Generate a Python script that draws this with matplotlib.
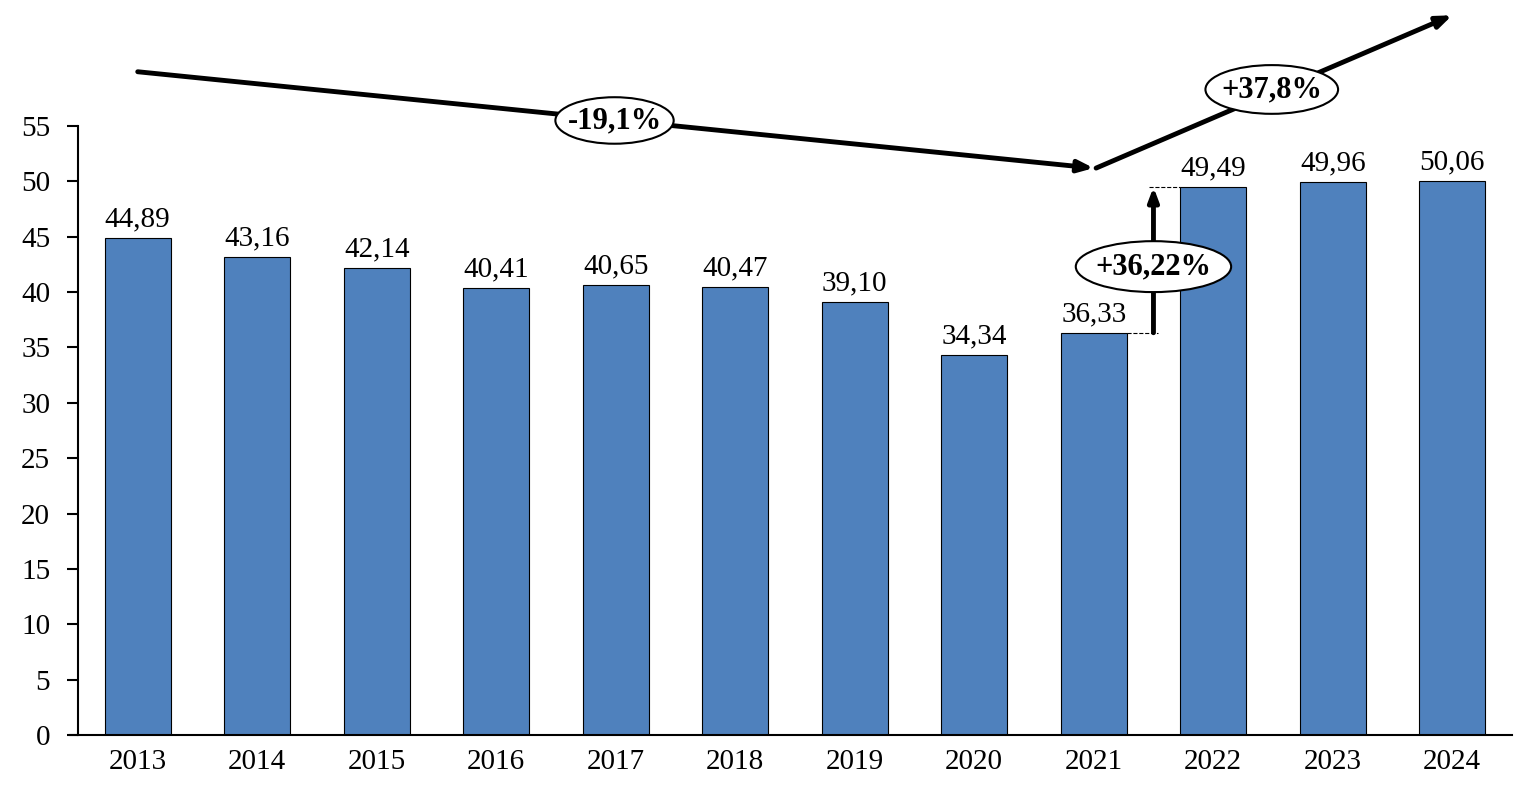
import matplotlib.pyplot as plt
from matplotlib.patches import Ellipse

years = ['2013', '2014', '2015', '2016', '2017', '2018',
         '2019', '2020', '2021', '2022', '2023', '2024']
values = [44.89, 43.16, 42.14, 40.41, 40.65, 40.47,
          39.10, 34.34, 36.33, 49.49, 49.96, 50.06]
labels = ['44,89', '43,16', '42,14', '40,41', '40,65', '40,47',
          '39,10', '34,34', '36,33', '49,49', '49,96', '50,06']
yticks = [0, 5, 10, 15, 20, 25, 30, 35, 40, 45, 50, 55]

plt.rcParams['font.family'] = ['Liberation Serif', 'DejaVu Serif']

fig = plt.figure(figsize=(15.26, 7.97), dpi=100)
ax = fig.add_axes([0.0511, 0.0778, 0.9397, 0.7641])

x = list(range(len(years)))
bw = 0.55
ax.bar(x, values, width=bw, color='#4F81BD', edgecolor='black', linewidth=0.8, zorder=2)
for xi, v, t in zip(x, values, labels):
    ax.text(xi, v + 0.5, t, ha='center', va='bottom', fontsize=21)

ax.set_xlim(-0.5, 11.5)
ax.set_ylim(0, 55)
ax.set_yticks(yticks)
ax.set_xticks(x)
ax.set_xticklabels(years)
ax.tick_params(axis='y', labelsize=21, length=8, width=1.5, direction='out', pad=12)
ax.tick_params(axis='x', labelsize=21, length=0, pad=10)
for s in ['top', 'right']:
    ax.spines[s].set_visible(False)
ax.spines['left'].set_linewidth(1.5)
ax.spines['bottom'].set_linewidth(1.5)
ax.spines['bottom'].set_bounds(-0.57, 11.5)

arrow_kw = dict(arrowstyle='-|>,head_length=0.9,head_width=0.35', lw=3.5, color='black',
                shrinkA=0, shrinkB=0)
# decline arrow 2013 -> 2021
ax.annotate('', xy=(8.0, 51.2), xytext=(0.0, 59.9), arrowprops=arrow_kw, annotation_clip=False)
# growth arrow 2021 -> 2024
ax.annotate('', xy=(11.0, 65.0), xytext=(8.02, 51.2), arrowprops=arrow_kw, annotation_clip=False)
# vertical arrow 2021 -> 2022
ax.annotate('', xy=(8.5, values[9]), xytext=(8.5, values[8]),
            arrowprops=dict(arrowstyle='-|>,head_length=0.8,head_width=0.3', lw=3.5,
                            color='black', shrinkA=0, shrinkB=0), annotation_clip=False)
ax.plot([8 + bw / 2, 8.54], [values[8]] * 2, color='black', lw=0.8, ls='--')
ax.plot([8.46, 9 - bw / 2], [values[9]] * 2, color='black', lw=0.8, ls='--')

def bubble(cx, cy, w, h, text):
    e = Ellipse((cx, cy), w, h, facecolor='white', edgecolor='black', lw=1.5,
                zorder=5, clip_on=False)
    ax.add_patch(e)
    ax.text(cx, cy, text, ha='center', va='center', fontsize=22, fontweight='bold',
            zorder=6, clip_on=False)

bubble(3.99, 55.5, 0.99, 4.2, '-19,1%')
bubble(9.49, 58.3, 1.11, 4.4, '+37,8%')
bubble(8.5, 42.3, 1.3, 4.6, '+36,22%')

fig.savefig('out.png', dpi=100)
